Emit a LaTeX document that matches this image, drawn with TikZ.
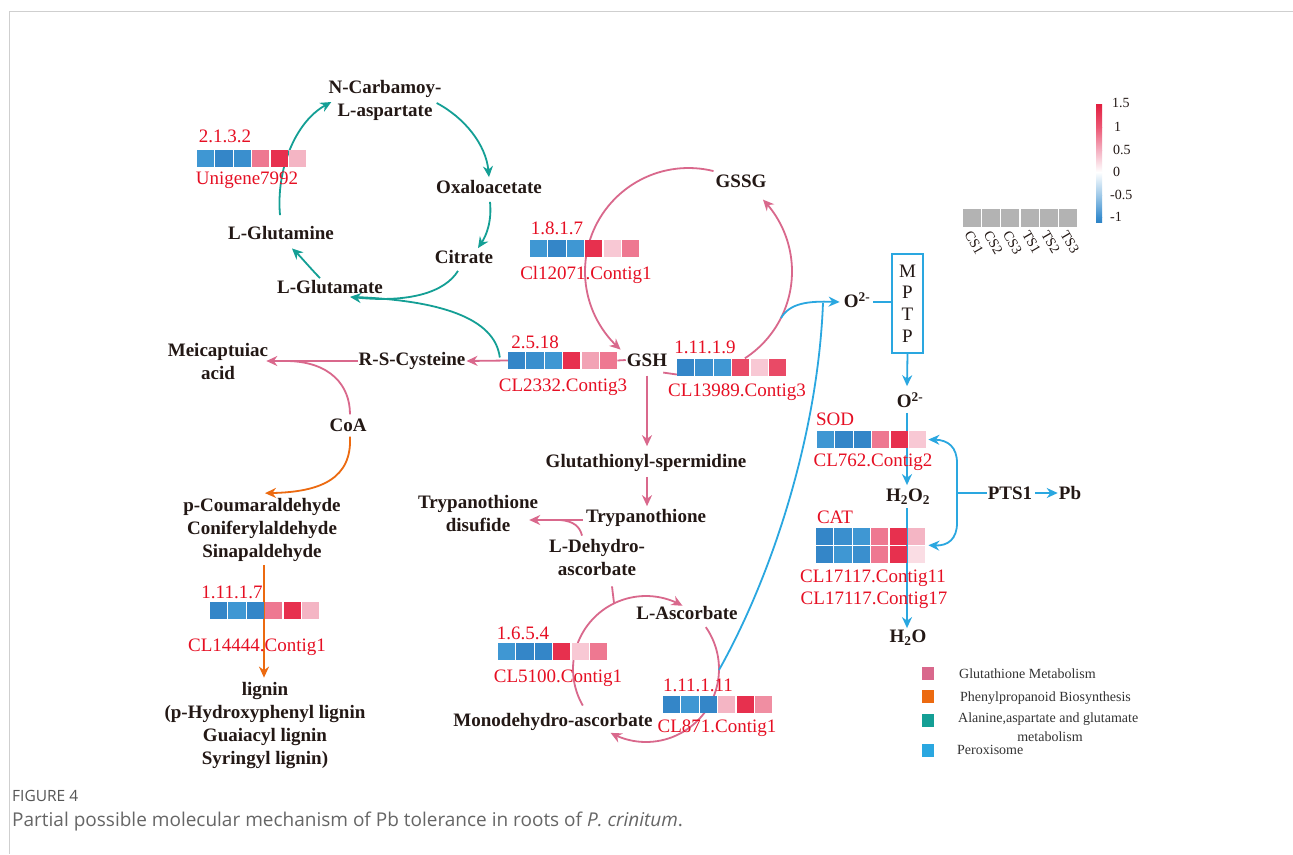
\documentclass[tikz,border=0pt]{standalone}
\usepackage{fontspec}
\setmainfont{Liberation Serif}
\newfontfamily\capfont{Open Sans}
\usetikzlibrary{arrows.meta,calc}
\definecolor{txtblack}{HTML}{231815}
\definecolor{redtxt}{HTML}{E60F23}
\definecolor{pinkln}{HTML}{D9688C}
\definecolor{tealln}{HTML}{149F95}
\definecolor{orangeln}{HTML}{EC6A10}
\definecolor{blueln}{HTML}{2AA7E0}
\definecolor{framec}{HTML}{CFCFCF}
\definecolor{capgray}{HTML}{555555}
\definecolor{capgrayb}{HTML}{666666}
\definecolor{hb1}{HTML}{3F97D3}
\definecolor{hb2}{HTML}{3486C8}
\definecolor{hb3}{HTML}{3A8FCE}
\definecolor{hr}{HTML}{E7304E}
\definecolor{hrb}{HTML}{E94A66}
\definecolor{hm}{HTML}{EE7891}
\definecolor{hmb}{HTML}{F08EA2}
\definecolor{hl}{HTML}{F4B5C4}
\definecolor{hv}{HTML}{F8C8D4}
\definecolor{hw}{HTML}{FADDE4}
\definecolor{hp}{HTML}{F2A3B5}
\definecolor{graybox}{HTML}{B3B3B3}
\definecolor{cbA}{HTML}{E21F40}
\definecolor{cbB}{HTML}{EC5673}
\definecolor{cbC}{HTML}{F4AFC0}
\definecolor{cbD}{HTML}{FFFFFF}
\definecolor{cbE}{HTML}{9FC9E8}
\definecolor{cbF}{HTML}{3A8ECF}
\definecolor{cbG}{HTML}{2F84C6}
\newcommand\hmap[4]{%
  \node[hmnode] (#1) at ({#2+54.6},{#3+8.5}) {};
  \foreach \cc [count=\ii from 0] in {#4}{\fill[\cc] ({#2+\ii*18.4},{#3}) rectangle +(17.2,17);}%
}
\begin{document}
\begin{tikzpicture}[x=1pt,y=-1pt,
  metab/.style={font=\bfseries\fontsize{19}{23}\selectfont, text=txtblack, align=center, inner sep=1pt},
  redlbl/.style={font=\fontsize{19}{22}\selectfont, text=redtxt, inner sep=0pt},
  tealc/.style={draw=tealln, line width=1.8pt},
  tealarr/.style={tealc, -{Stealth[length=11pt,width=10pt]}},
  pinkc/.style={draw=pinkln, line width=1.8pt},
  pinkarr/.style={pinkc, -{Stealth[length=11pt,width=10pt]}},
  orangec/.style={draw=orangeln, line width=1.8pt},
  orangearr/.style={orangec, -{Stealth[length=11pt,width=10pt]}},
  bluec/.style={draw=blueln, line width=1.8pt},
  bluearr/.style={bluec, -{Stealth[length=11pt,width=10pt]}},
  hmnode/.style={minimum width=109.2pt, minimum height=17pt, inner sep=0pt},
  mptpbox/.style={draw=blueln, line width=1.5pt, minimum width=31pt, minimum height=99pt, inner sep=0pt, align=center, font=\fontsize{19}{21.7}\selectfont, text=txtblack},
  legtxt/.style={font=\fontsize{14}{16}\selectfont, text=black!80, inner sep=0pt, anchor=west},
  legsq/.style={minimum width=12pt, minimum height=13pt, inner sep=0pt},
  cblbl/.style={font=\fontsize{14}{16}\selectfont, text=txtblack, inner sep=0pt, anchor=west},
  grylbl/.style={font=\fontsize{14}{16}\selectfont, text=txtblack, inner sep=0pt, anchor=west, rotate=-60}
]
\useasboundingbox (0,0) rectangle (1293,854);
\fill[white] (0,0) rectangle (1293,854);
\draw[framec, line width=1.2pt] (1293,11.5) -- (9.5,11.5) -- (9.5,854);

% ---------- metabolites ----------
\node[metab] (ncarb) at (385,100) {N-Carbamoy-\\L-aspartate};
\node[metab] (oxalo) at (489,187) {Oxaloacetate};
\node[metab] (citrate) at (464,257) {Citrate};
\node[metab] (lgln) at (281,233) {L-Glutamine};
\node[metab] (lglu) at (330,287) {L-Glutamate};
\node[metab] (gssg) at (741,181) {GSSG};
\node[metab] (gsh) at (647,360) {GSH};
\node[metab] (rscys) at (412,361) {R-S-Cysteine};
\node[metab] (meica) at (218,361) {Meicaptuiac\\acid};
\node[metab] (coa) at (348,425) {CoA};
\node[metab] (gsp) at (646,463) {Glutathionyl-spermidine};
\node[metab] (tryp) at (646,518) {Trypanothione};
\node[metab] (trypdis) at (478,514) {Trypanothione\\disufide};
\node[metab] (ldha) at (597,557) {L-Dehydro-\\ascorbate};
\node[metab] (lasc) at (687,613) {L-Ascorbate};
\node[metab] (mdha) at (553,722) {Monodehydro-ascorbate};
\node[metab] (pcoum) at (262,530) {p-Coumaraldehyde\\Coniferylaldehyde\\Sinapaldehyde};
\node[metab] (lignin) at (265,725) {lignin\\(p-Hydroxyphenyl lignin\\Guaiacyl lignin\\Syringyl lignin)};
\node[metab] (o2a) at (857,300) {O\textsuperscript{2-}};
\node[mptpbox] (mptp) at (907.5,303.5) {M\\P\\T\\P};
\node[metab] (o2b) at (910,400) {O\textsuperscript{2-}};
\node[metab] (h2o2) at (908,497) {H\textsubscript{2}O\textsubscript{2}};
\node[metab] (h2o) at (908,638) {H\textsubscript{2}O};
\node[metab] (pts1) at (1010,493) {PTS1};
\node[metab] (pb) at (1070,493) {Pb};

% ---------- junction coordinates ----------
\coordinate (j1) at (288,361);
\coordinate (j2) at (560,520);
\coordinate (j3) at (823,303);
\coordinate (gR) at (781,318);
\coordinate (ascR) at (719,670);
\coordinate (ascT) at (614,603);
\coordinate (br) at (957,493);

% ---------- teal connectors ----------
\draw[tealarr] ($(lgln.north)+(-1,-10)$) .. controls (276,170) and (295,122) .. ($(ncarb.west)+(4,2)$);
\draw[tealarr] ($(ncarb.east)+(-6,3)$) .. controls (465,118) and (486,145) .. ($(oxalo.north)+(0,-2)$);
\draw[tealarr] ($(oxalo.south)+(1,7)$) .. controls (492,222) and (486,236) .. ($(citrate.north)+(14,-1)$);
\draw[tealarr] ($(citrate.south)+(-6,6)$) .. controls (445,292) and (410,303) .. ($(lglu.south)+(20,2)$);
\hmap{c2332}{508}{352}{hb2,hb3,hb1,hr,hp,hm}
\draw[tealc] ($(c2332.west)+(-8,-3)$) .. controls (495,318) and (440,300) .. ($(lglu.south)+(22,2)$);
\draw[tealarr] ($(lglu.north)+(-10,-1)$) .. controls (312,270) and (300,256) .. ($(lgln.south)+(11,7.5)$);

% ---------- pink connectors ----------
\draw[pinkarr] plot[domain=76:229, samples=60, variable=\t] ({688.5+103.5*cos(\t)},{271.5-103.5*sin(\t)});
\draw[pinkarr] plot[domain=-57:44, samples=50, variable=\t] ({688.5+103.5*cos(\t)},{271.5-103.5*sin(\t)});
\draw[pinkc] (c2332.east) -- (gsh.west);
\draw[pinkarr] (c2332.west) -- (rscys.east);
\draw[pinkarr] (rscys.west) -- ($(meica.east)+(-3,0)$);
\draw[pinkc] ($(coa.north)+(2,-3)$) .. controls (350,385) and (330,362) .. (j1);
\draw[pinkarr] ($(gsh.south)+(0,8)$) -- ($(gsp.north)+(1,-7)$);
\draw[pinkarr] ($(gsp.south)+(1,4)$) -- ($(tryp.north)+(1,-2)$);
\draw[pinkarr] ($(tryp.west)+(-2,2)$) -- ($(trypdis.east)+(-10,6)$);
\draw[pinkc] ($(ldha.north)+(-15,-2)$) .. controls (580,527) and (574,521) .. (j2);
\draw[pinkc] ($(ldha.south)+(15,10)$) -- (ascT);
\draw[pinkarr] plot[domain=0:150, samples=50, variable=\t] ({646+73*cos(210-\t)},{669-73*sin(210-\t)});
\draw[pinkarr] plot[domain=0:154, samples=50, variable=\t] ({646+73*cos(35-\t)},{669-73*sin(35-\t)});

% ---------- orange connectors ----------
\draw[orangearr] ($(coa.south)+(2,4)$) .. controls (352,478) and (322,492) .. ($(pcoum.north)+(3,-4)$);
\draw[orangearr] ($(pcoum.south)+(2,2)$) -- ($(lignin.north)+(-1,-3)$);

% ---------- blue connectors ----------
\draw[bluec] (ascR) .. controls (775,570) and (818,430) .. (j3);
\draw[bluearr] (gR) .. controls (790,303) and (808,301) .. ($(o2a.west)+(-3,2)$);
\draw[bluec] ($(o2a.east)+(2,2)$) -- (mptp.west |- 0,302);
\draw[bluearr] (mptp.south) -- ($(o2b.north)+(-3,-5)$);
\draw[bluearr] ($(o2b.south)+(-3,4)$) -- ($(h2o2.north)+(-1,-3)$);
\draw[bluearr] ($(h2o2.south)+(-1,2)$) -- ($(h2o.north)+(-1,-1)$);
\draw[bluec] (pts1.west) -- (br);
\draw[bluearr] ($(pts1.east)+(2,0)$) -- (pb.west);

% ---------- heatmaps ----------
\hmap{u7992}{197}{150}{hb1,hb2,hb3,hm,hr,hl}
\hmap{c12071}{530}{240}{hb1,hb2,hb1,hr,hv,hm}
\hmap{c2332b}{508}{352}{hb2,hb3,hb1,hr,hp,hm}
\hmap{c13989}{677}{359}{hb2,hb3,hb1,hrb,hv,hrb}
\hmap{sod}{817}{431}{hb1,hb2,hb2,hm,hr,hv}
\hmap{cat1}{816}{528}{hb2,hb3,hb1,hm,hr,hl}
\hmap{cat2}{816}{546}{hb2,hb1,hb3,hm,hr,hw}
\hmap{c14444}{210}{602}{hb2,hb1,hb2,hm,hr,hl}
\hmap{c5100}{498}{643}{hb1,hb2,hb2,hr,hv,hm}
\hmap{c871}{663}{696}{hb2,hb1,hb2,hl,hr,hmb}

\draw[pinkc] ($(gsh.south east)+(-5,5)$) -- ($(c13989.west)+(0,7)$);
\draw[bluearr] (br) -- (957,463) .. controls (957,447) and (948,440) .. ($(sod.east)+(2,0)$);
\draw[bluearr] (br) -- (957,523) .. controls (957,539) and (948,546) .. ($(cat1.south east)+(3,0)$);

% ---------- red labels ----------
\node[redlbl] (l2132) at (225,136) {2.1.3.2};
\node[redlbl] (u7992lbl) at (247,180) {Unigene7992};
\node[redlbl] (l1817) at (557,228) {1.8.1.7};
\node[redlbl] (c12071lbl) at (586,275) {Cl12071.Contig1};
\node[redlbl] (l2518) at (535,342) {2.5.18};
\node[redlbl] (c2332lbl) at (563,387) {CL2332.Contig3};
\node[redlbl] (l11119) at (705,347) {1.11.1.9};
\node[redlbl] (c13989lbl) at (737,392) {CL13989.Contig3};
\node[redlbl] (lsod) at (835,419) {SOD};
\node[redlbl] (sodlbl) at (873,462) {CL762.Contig2};
\node[redlbl] (lcat) at (835,517) {CAT};
\node[redlbl] (cat1lbl) at (873,578) {CL17117.Contig11};
\node[redlbl] (cat2lbl) at (874,600) {CL17117.Contig17};
\node[redlbl] (l11117) at (232,592) {1.11.1.7};
\node[redlbl] (c14444lbl) at (257,647) {CL14444.Contig1};
\node[redlbl] (l1654) at (523,633) {1.6.5.4};
\node[redlbl] (c5100lbl) at (558,678) {CL5100.Contig1};
\node[redlbl] (l111111) at (698,685) {1.11.1.11};
\node[redlbl] (c871lbl) at (717,728) {CL871.Contig1};

% ---------- colour bar ----------
\shade[top color=cbA, bottom color=cbB] (1096,104) rectangle (1102,127);
\shade[top color=cbB, bottom color=cbC] (1096,127) rectangle (1102,150);
\shade[top color=cbC, bottom color=cbD] (1096,150) rectangle (1102,172);
\shade[top color=cbD, bottom color=cbE] (1096,172) rectangle (1102,195);
\shade[top color=cbE, bottom color=cbF] (1096,195) rectangle (1102,217);
\shade[top color=cbF, bottom color=cbG] (1096,217) rectangle (1102,222);
\node[cblbl] (cb1) at (1112,103) {1.5};
\node[cblbl] (cb2) at (1114,127) {1};
\node[cblbl] (cb3) at (1113,150) {0.5};
\node[cblbl] (cb4) at (1113,172) {0};
\node[cblbl] (cb5) at (1110,195) {-0.5};
\node[cblbl] (cb6) at (1110,217) {-1};

% ---------- sample boxes ----------
\foreach \nm [count=\k from 0] in {CS1,CS2,CS3,TS1,TS2,TS3}{
  \node[fill=graybox, minimum width=18pt, minimum height=18pt, inner sep=0pt] (g\k) at ({972+\k*19.2},218) {};
  \node[grylbl] (gl\k) at ({968+\k*19.2},232) {\nm};
}

% ---------- legend ----------
\node[legsq, fill=pinkln] (lg1) at (928,673.5) {};
\node[legtxt] (lt1) at (959,674) {Glutathione Metabolism};
\node[legsq, fill=orangeln] (lg2) at (928,696.5) {};
\node[legtxt] (lt2) at (960,698) {Phenylpropanoid Biosynthesis};
\node[legsq, fill=tealln] (lg3) at (928,720) {};
\node[legtxt] (lt3) at (958,719) {Alanine,aspartate and glutamate};
\node[legtxt, anchor=center] (lt3b) at (1050,737) {metabolism};
\node[legsq, fill=blueln] (lg4) at (928,750.5) {};
\node[legtxt] (lt4) at (957,750) {Peroxisome};

% ---------- caption ----------
\node[anchor=west, inner sep=0pt, font=\capfont\fontsize{15.5}{18}\selectfont, text=capgray] (figlbl) at (12,796) {FIGURE 4};
\node[anchor=west, inner sep=0pt, font=\capfont\fontsize{19}{22}\selectfont, text=capgrayb] (cap) at (12,822) {Partial possible molecular mechanism of Pb tolerance in roots of \textit{P. crinitum}.};
\end{tikzpicture}
\end{document}
